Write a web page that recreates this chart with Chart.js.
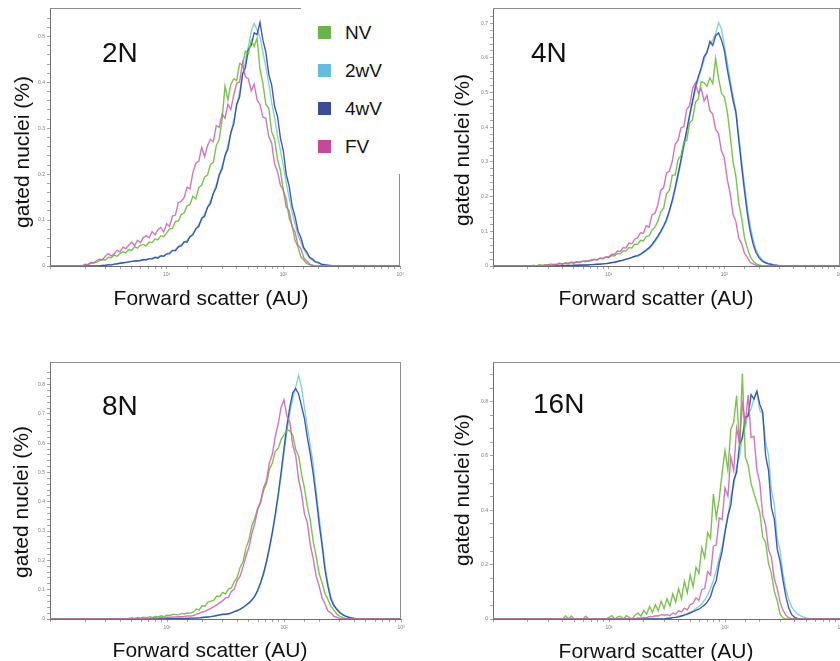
<!DOCTYPE html>
<html>
<head>
<meta charset="utf-8">
<script src="https://cdn.jsdelivr.net/npm/chart.js@4.4.1/dist/chart.umd.min.js"></script>
<style>
  html, body { margin: 0; padding: 0; background: #fff; width: 840px; height: 661px; overflow: hidden; position: relative;
    font-family: "Liberation Sans", Arial, sans-serif; }
  canvas { position: absolute; }
  .txt { position: absolute; white-space: nowrap; color: #111; line-height: 1; }
  .ytitle { font-size: 21px; transform: translate(-50%, -50%) rotate(-90deg); }
  .xtitle { font-size: 21px; transform: translateX(-50%); }
  .plabel { font-size: 28px; }
  #legend { position: absolute; left: 301px; top: 0; width: 112px; height: 174px; background: #fff; }
  .lg-item { position: absolute; left: 17px; height: 20px; }
  .lg-item i { position: absolute; left: 0; top: 3px; width: 13px; height: 13px; }
  .lg-item span { position: absolute; left: 27px; top: 0; font-size: 19px; line-height: 20px; color: #111; }
</style>
</head>
<body>
<canvas id="c2N" width="420" height="330" style="left:0;top:0;width:420px;height:330px"></canvas>
<canvas id="c4N" width="440" height="330" style="left:420px;top:0;width:440px;height:330px"></canvas>
<canvas id="c8N" width="420" height="330" style="left:0;top:330px;width:420px;height:330px"></canvas>
<canvas id="c16N" width="440" height="330" style="left:420px;top:330px;width:440px;height:330px"></canvas>
<div id="overlay"></div>
<div id="legend"></div>
<script>
// Ploidy classes (one panel each) and vernalization treatments (one curve each)
const ploidyLevels = ['2N', '4N', '8N', '16N'];
const treatments = ['NV', '2wV', '4wV', 'FV'];
const decadeLabels = ['10\u00B9', '10\u00B2', '10\u00B3'];
const yAxisTitle = 'gated nuclei (%)';
const xAxisTitle = 'Forward scatter (AU)';

// Forward-scatter channels, as log10(AU)
const fscLogChannels = [0,
  0.25,0.275,0.3,0.325,0.35,0.375,0.4,0.425,0.45,0.475,
  0.5,0.525,0.55,0.575,0.6,0.625,0.65,0.675,0.7,0.725,
  0.75,0.775,0.8,0.825,0.85,0.875,0.9,0.925,0.95,0.975,
  1,1.025,1.05,1.075,1.1,1.125,1.15,1.175,1.2,1.225,
  1.25,1.275,1.3,1.325,1.35,1.375,1.4,1.425,1.45,1.475,
  1.5,1.525,1.55,1.575,1.6,1.625,1.65,1.675,1.7,1.725,
  1.75,1.775,1.8,1.825,1.85,1.875,1.9,1.925,1.95,1.975,
  2,2.025,2.05,2.075,2.1,2.125,2.15,2.175,2.2,2.225,
  2.25,2.275,2.3,2.325,2.35,2.375,2.4,2.425,2.45,2.475,
  2.5,2.525,2.55,2.575,2.6,2.625,2.65,2.675,2.7,2.725,
  2.75,2.775,2.8,2.825,2.85,
  3];

// ---- 2N ----
const nv2N = [0,
  0,0,.003,.003,.006,.008,.008,.012,.014,.013,
  .019,.018,.024,.021,.027,.031,.029,.036,.034,.042,
  .039,.045,.047,.044,.052,.051,.059,.057,.066,.064,
  .072,.081,.082,.097,.098,.112,.116,.131,.134,.152,
  .146,.171,.176,.194,.198,.221,.226,.262,.276,.318,
  .392,.362,.396,.408,.404,.441,.438,.468,.462,.492,
  .478,.496,.428,.398,.352,.344,.292,.276,.232,.208,
  .164,.146,.104,.088,.056,.042,.020,.013,.005,.003,
  .001,0,0,0,0,0,0,0,0,0,
  0,0,0,0,0,0,0,0,0,0,
  0,0,0,0,0,
  0];
const w2v2N = [0,
  0,0,0,0,0,0,.001,0,.001,.002,
  .002,.003,.004,.004,.006,.006,.008,.008,.010,.011,
  .012,.012,.013,.015,.016,.017,.018,.020,.023,.022,
  .027,.029,.033,.036,.041,.046,.051,.056,.063,.071,
  .079,.091,.101,.114,.127,.142,.158,.177,.197,.218,
  .238,.264,.288,.318,.349,.379,.414,.446,.478,.512,
  .528,.514,.498,.466,.433,.398,.356,.322,.284,.252,
  .218,.182,.148,.118,.092,.068,.052,.036,.026,.017,
  .012,.009,.006,.004,.003,.002,.001,0,0,0,
  0,0,0,0,0,0,0,0,0,0,
  0,0,0,0,0,
  0];
const w4v2N = [0,
  0,0,0,0,0,0,0,0,.001,.001,
  .003,.002,.004,.005,.006,.007,.008,.009,.010,.011,
  .011,.012,.014,.013,.016,.015,.019,.017,.022,.021,
  .026,.027,.034,.033,.042,.044,.053,.052,.064,.068,
  .081,.086,.104,.108,.128,.136,.158,.171,.198,.211,
  .241,.254,.291,.309,.352,.368,.418,.432,.472,.481,
  .508,.504,.531,.492,.466,.418,.394,.348,.326,.279,
  .251,.199,.174,.131,.108,.077,.062,.040,.031,.019,
  .015,.009,.008,.004,.003,.002,.001,0,0,0,
  0,0,0,0,0,0,0,0,0,0,
  0,0,0,0,0,
  0];
const fv2N = [0,
  0,0,.004,.003,.008,.006,.012,.015,.014,.021,
  .027,.022,.026,.034,.031,.041,.038,.045,.052,.044,
  .056,.051,.062,.066,.061,.075,.068,.079,.084,.074,
  .092,.086,.109,.111,.138,.141,.149,.172,.168,.204,
  .224,.228,.258,.238,.262,.276,.271,.306,.302,.331,
  .322,.352,.341,.372,.398,.401,.442,.412,.408,.382,
  .396,.362,.352,.324,.322,.282,.268,.222,.206,.176,
  .166,.128,.121,.086,.074,.046,.038,.018,.011,.004,
  .002,0,0,0,0,0,0,0,0,0,
  0,0,0,0,0,0,0,0,0,0,
  0,0,0,0,0,
  0];

// ---- 4N ----
const nv4N = [0,
  0,0,0,0,.002,0,.003,.002,.004,.003,
  .006,.004,.005,.008,.006,.009,.008,.011,.010,.012,
  .011,.014,.015,.013,.018,.019,.018,.023,.022,.026,
  .024,.030,.029,.036,.035,.044,.043,.053,.052,.063,
  .062,.074,.072,.086,.087,.104,.112,.128,.156,.166,
  .208,.218,.262,.262,.308,.318,.358,.362,.412,.422,
  .472,.482,.532,.528,.518,.542,.526,.598,.542,.498,
  .488,.446,.378,.302,.258,.182,.138,.080,.050,.026,
  .014,.006,.003,.001,0,0,0,0,0,0,
  0,0,0,0,0,0,0,0,0,0,
  0,0,0,0,0,
  0];
const w2v4N = [0,
  0,0,0,0,0,0,0,0,0,0,
  0,0,0,.001,.001,.001,.001,.002,.002,.002,
  .003,.003,.003,.004,.004,.005,.005,.006,.006,.007,
  .008,.009,.011,.012,.015,.016,.019,.021,.024,.027,
  .028,.032,.038,.044,.050,.059,.070,.082,.096,.112,
  .130,.155,.184,.218,.258,.298,.342,.386,.430,.470,
  .508,.538,.566,.594,.620,.638,.652,.670,.702,.684,
  .636,.588,.538,.492,.450,.378,.304,.232,.168,.114,
  .074,.046,.030,.019,.012,.008,.006,.004,.002,.001,
  0,0,0,0,0,0,0,0,0,0,
  0,0,0,0,0,
  0];
const w4v4N = [0,
  0,0,0,0,0,0,0,0,0,0,
  0,0,.001,0,.001,.001,.002,.001,.002,.002,
  .002,.003,.003,.003,.004,.004,.005,.005,.006,.007,
  .008,.010,.011,.013,.015,.017,.020,.022,.025,.028,
  .030,.034,.040,.046,.053,.062,.074,.086,.100,.116,
  .134,.160,.190,.226,.266,.306,.350,.392,.436,.476,
  .518,.546,.572,.604,.616,.648,.636,.664,.672,.652,
  .622,.568,.524,.478,.442,.362,.286,.214,.148,.098,
  .062,.038,.024,.015,.010,.007,.005,.003,.002,.001,
  0,0,0,0,0,0,0,0,0,0,
  0,0,0,0,0,
  0];
const fv4N = [0,
  0,0,0,0,0,0,.002,0,.002,.003,
  .002,.005,.004,.007,.005,.008,.007,.010,.008,.012,
  .010,.014,.012,.016,.015,.019,.017,.022,.020,.026,
  .026,.034,.033,.043,.042,.053,.052,.066,.064,.078,
  .081,.096,.094,.116,.112,.148,.152,.176,.218,.226,
  .268,.274,.302,.352,.362,.398,.402,.452,.462,.512,
  .528,.498,.512,.476,.492,.448,.438,.394,.382,.332,
  .312,.250,.210,.150,.128,.080,.064,.036,.024,.010,
  .006,.002,0,0,0,0,0,0,0,0,
  0,0,0,0,0,0,0,0,0,0,
  0,0,0,0,0,
  0];

// ---- 8N ----
const nv8N = [0,
  0,0,0,0,0,0,0,0,0,0,
  0,0,0,0,0,0,0,.002,.004,.002,
  .005,.003,.006,.004,.008,.005,.009,.007,.011,.008,
  .013,.012,.016,.015,.014,.019,.017,.021,.020,.024,
  .034,.031,.046,.044,.058,.061,.064,.078,.076,.091,
  .086,.102,.106,.128,.142,.176,.196,.242,.270,.318,
  .344,.378,.396,.438,.462,.510,.532,.572,.582,.612,
  .628,.646,.642,.628,.578,.556,.494,.446,.384,.336,
  .264,.214,.156,.124,.088,.067,.044,.031,.017,.010,
  .005,.002,0,0,0,0,0,0,0,0,
  0,0,0,0,0,
  0];
const w2v8N = [0,
  0,0,0,0,0,0,0,0,0,0,
  0,0,0,0,0,0,0,0,0,0,
  0,0,0,0,0,0,.001,0,.001,.001,
  .001,.001,.001,.002,.002,.002,.002,.003,.003,.003,
  .004,.004,.005,.006,.007,.008,.010,.011,.013,.015,
  .015,.017,.020,.024,.028,.033,.039,.046,.054,.064,
  .076,.095,.120,.152,.190,.236,.288,.348,.414,.488,
  .566,.640,.704,.752,.792,.832,.790,.720,.654,.592,
  .526,.438,.352,.268,.184,.122,.078,.050,.036,.024,
  .016,.011,.007,.004,.003,.001,0,0,0,0,
  0,0,0,0,0,
  0];
const w4v8N = [0,
  0,0,0,0,0,0,0,0,0,0,
  0,0,0,0,0,0,0,0,0,0,
  0,0,0,0,0,.001,0,.001,.001,.001,
  .001,.001,.001,.001,.002,.002,.002,.002,.003,.003,
  .003,.004,.005,.006,.007,.008,.010,.012,.014,.016,
  .016,.018,.021,.025,.029,.034,.040,.047,.055,.065,
  .078,.098,.124,.156,.196,.244,.296,.356,.424,.500,
  .582,.660,.724,.772,.786,.768,.726,.684,.618,.562,
  .494,.414,.326,.252,.168,.112,.068,.046,.033,.022,
  .015,.010,.006,.004,.002,.001,0,0,0,0,
  0,0,0,0,0,
  0];
const fv8N = [0,
  0,0,0,0,0,0,0,0,0,0,
  0,0,0,0,0,0,.001,0,.001,.001,
  .002,.001,.002,.002,.003,.003,.004,.003,.005,.004,
  .006,.006,.007,.007,.008,.008,.009,.010,.010,.012,
  .016,.019,.024,.026,.031,.036,.042,.048,.056,.062,
  .072,.074,.094,.101,.132,.146,.178,.216,.244,.292,
  .326,.374,.402,.448,.472,.532,.562,.622,.664,.722,
  .748,.692,.672,.592,.558,.476,.430,.358,.328,.252,
  .206,.146,.114,.072,.052,.028,.021,.010,.006,.002,
  0,0,0,0,0,0,0,0,0,0,
  0,0,0,0,0,
  0];

// ---- 16N ----
const nv16N = [0,
  0,0,0,0,0,0,0,0,0,0,
  0,0,0,0,0,.012,0,.011,0,0,
  0,0,.010,0,0,0,0,0,0,0,
  .006,.012,0,.008,.010,0,.012,.005,0,.014,
  .022,.010,.032,.018,.046,.024,.052,.030,.066,.038,
  .074,.048,.092,.062,.112,.074,.138,.096,.162,.118,
  .190,.168,.262,.226,.318,.296,.460,.372,.442,.536,
  .620,.548,.698,.724,.822,.632,.904,.596,.566,.498,
  .462,.428,.392,.302,.282,.204,.168,.102,.068,.018,
  .004,0,0,0,0,0,0,0,0,0,
  0,0,0,0,0,
  0];
const w2v16N = [0,
  0,0,0,0,0,0,0,0,0,0,
  0,0,0,0,0,0,0,0,0,0,
  0,0,0,0,0,0,0,0,0,0,
  0,0,0,0,0,0,0,0,0,0,
  0,0,0,0,0,0,0,0,0,0,
  .003,.004,.006,.007,.010,.012,.016,.020,.025,.030,
  .038,.046,.056,.070,.088,.112,.142,.178,.224,.268,
  .326,.374,.452,.490,.562,.598,.676,.706,.758,.772,
  .812,.838,.768,.756,.652,.602,.476,.422,.298,.252,
  .168,.110,.072,.044,.030,.018,.012,.008,.004,.002,
  .001,0,0,0,0,
  0];
const w4v16N = [0,
  0,0,0,0,0,0,0,0,0,0,
  0,0,0,0,0,0,0,0,0,0,
  0,0,0,0,0,0,0,0,0,0,
  0,0,0,0,0,0,0,0,0,0,
  0,0,0,0,0,0,0,0,0,0,
  .002,.003,.005,.006,.008,.011,.014,.018,.022,.027,
  .032,.036,.044,.052,.064,.082,.118,.142,.204,.248,
  .318,.380,.418,.510,.540,.642,.668,.742,.748,.826,
  .810,.838,.790,.762,.600,.548,.410,.368,.258,.212,
  .142,.082,.040,.016,.006,.002,0,0,0,0,
  0,0,0,0,0,
  0];
const fv16N = [0,
  0,0,0,0,0,0,0,0,0,0,
  0,0,0,0,0,0,0,0,0,0,
  0,0,0,0,0,0,0,0,0,0,
  0,0,0,0,0,0,0,0,.002,.001,
  .004,.003,.006,.005,.009,.008,.012,.011,.016,.014,
  .016,.012,.022,.018,.030,.026,.040,.034,.052,.058,
  .078,.068,.108,.112,.174,.162,.268,.272,.372,.366,
  .482,.452,.596,.548,.702,.648,.792,.724,.824,.668,
  .672,.548,.502,.382,.346,.256,.228,.148,.112,.062,
  .032,.014,.004,0,0,0,0,0,0,0,
  0,0,0,0,0,
  0];

// Series per panel, in the order of `treatments`
const panelSeries = {
  '2N': [nv2N, w2v2N, w4v2N, fv2N],
  '4N': [nv4N, w2v4N, w4v4N, fv4N],
  '8N': [nv8N, w2v8N, w4v8N, fv8N],
  '16N': [nv16N, w2v16N, w4v16N, fv16N]
};

// ---- styling / layout ----
const FONT = '"Liberation Sans", Arial, sans-serif';
const lineColors = {
  'NV': 'rgba(108,188,58,0.9)',
  '2wV': 'rgba(128,208,212,0.95)',
  '4wV': 'rgba(46,72,168,0.9)',
  'FV': 'rgba(206,98,178,0.88)'
};
const swatchColors = { 'NV': '#6ab24a', '2wV': '#66bce0', '4wV': '#3d4c9a', 'FV': '#c9479b' };
// drawing order: first entry ends up on top
const drawOrder = ['FV', 'NV', '4wV', '2wV'];

const panelLayout = {
  '2N':  { canvas: 'c2N',  yAxisWidth: 50, pad: { top: 8,  right: 20, bottom: 52, left: 0 }, yMax: 0.562, tickStep: 0.02, labelStep: 0.1 },
  '4N':  { canvas: 'c4N',  yAxisWidth: 73, pad: { top: 8,  right: 20, bottom: 52, left: 0 }, yMax: 0.744, tickStep: 0.02, labelStep: 0.1 },
  '8N':  { canvas: 'c8N',  yAxisWidth: 50, pad: { top: 32, right: 19, bottom: 29, left: 0 }, yMax: 0.877, tickStep: 0.02, labelStep: 0.1 },
  '16N': { canvas: 'c16N', yAxisWidth: 73, pad: { top: 32, right: 19, bottom: 29, left: 0 }, yMax: 0.946, tickStep: 0.05, labelStep: 0.2 }
};

function isMultiple(v, step) {
  const k = v / step;
  return Math.abs(k - Math.round(k)) < 1e-6;
}

// top and right edges of the plot frame
const frameLines = {
  id: 'frameLines',
  afterDatasetsDraw(chart) {
    const a = chart.chartArea;
    const ctx = chart.ctx;
    ctx.save();
    ctx.strokeStyle = '#8c8c8c';
    ctx.lineWidth = 1;
    ctx.beginPath();
    const t = Math.round(a.top) + 0.5;
    const r = Math.round(a.right) - 0.5;
    ctx.moveTo(a.left, t);
    ctx.lineTo(a.right, t);
    ctx.moveTo(r, a.top);
    ctx.lineTo(r, a.bottom);
    ctx.stroke();
    ctx.restore();
  }
};

function buildChart(level) {
  const lay = panelLayout[level];
  const series = panelSeries[level];
  const datasets = drawOrder.map(name => {
    const values = series[treatments.indexOf(name)];
    return {
      label: name,
      data: values.map((v, i) => ({ x: Math.pow(10, fscLogChannels[i]), y: v })),
      borderColor: lineColors[name],
      borderWidth: 1.4,
      pointRadius: 0,
      tension: 0,
      fill: false
    };
  });
  return new Chart(document.getElementById(lay.canvas), {
    type: 'line',
    data: { datasets },
    plugins: [frameLines],
    options: {
      responsive: false,
      animation: false,
      devicePixelRatio: 1,
      parsing: false,
      layout: { padding: lay.pad },
      plugins: { legend: { display: false }, tooltip: { enabled: false } },
      scales: {
        x: {
          type: 'logarithmic',
          min: 1, max: 1000,
          afterFit(s) { s.height = 12; },
          border: { display: true, color: '#6e6e6e', width: 1 },
          grid: { display: true, drawOnChartArea: false, drawTicks: true, tickLength: 3, color: '#8a8a8a', lineWidth: 0.8 },
          ticks: {
            autoSkip: false, maxRotation: 0, padding: 3, color: '#7a7a7a',
            font: { size: 5, family: FONT },
            callback(v) {
              if (v <= 1) return '';
              const e = Math.log10(v);
              return Math.abs(e - Math.round(e)) < 1e-9 ? decadeLabels[Math.round(e) - 1] : '';
            }
          }
        },
        y: {
          min: 0, max: lay.yMax,
          afterFit(s) { s.width = lay.yAxisWidth; },
          afterBuildTicks(s) { s.ticks = s.ticks.filter(t => isMultiple(t.value, lay.tickStep)); },
          border: { display: true, color: '#6e6e6e', width: 1 },
          grid: { display: true, drawOnChartArea: false, drawTicks: true, tickLength: 3, color: '#8a8a8a', lineWidth: 0.8 },
          ticks: {
            stepSize: lay.tickStep, autoSkip: false, padding: 2, color: '#7a7a7a',
            font: { size: 5, family: FONT },
            callback(v) {
              if (!isMultiple(v, lay.labelStep)) return '';
              return v === 0 ? '0' : String(+v.toFixed(1));
            }
          }
        }
      }
    }
  });
}

ploidyLevels.forEach(buildChart);

// ---- text: axis titles and panel labels ----
const textPlacement = {
  '2N':  { yTitle: [21, 152],  xTitle: [211, 287], label: [102, 39] },
  '4N':  { yTitle: [461, 150], xTitle: [656, 287], label: [531, 39] },
  '8N':  { yTitle: [20, 502],  xTitle: [210, 639], label: [102, 392] },
  '16N': { yTitle: [461, 490], xTitle: [656, 640], label: [533, 390] }
};
const overlay = document.getElementById('overlay');
function addText(cls, txt, x, y) {
  const d = document.createElement('div');
  d.className = 'txt ' + cls;
  d.textContent = txt;
  d.style.left = x + 'px';
  d.style.top = y + 'px';
  overlay.appendChild(d);
}
ploidyLevels.forEach(level => {
  const p = textPlacement[level];
  addText('ytitle', yAxisTitle, p.yTitle[0], p.yTitle[1]);
  addText('xtitle', xAxisTitle, p.xTitle[0], p.xTitle[1]);
  addText('plabel', level, p.label[0], p.label[1]);
});

// ---- legend ----
const legend = document.getElementById('legend');
const legendRows = [23, 61, 99, 137];
treatments.forEach((name, i) => {
  const row = document.createElement('div');
  row.className = 'lg-item';
  row.style.top = legendRows[i] + 'px';
  const sw = document.createElement('i');
  sw.style.background = swatchColors[name];
  const lb = document.createElement('span');
  lb.textContent = name;
  row.appendChild(sw);
  row.appendChild(lb);
  legend.appendChild(row);
});
</script>
</body>
</html>
